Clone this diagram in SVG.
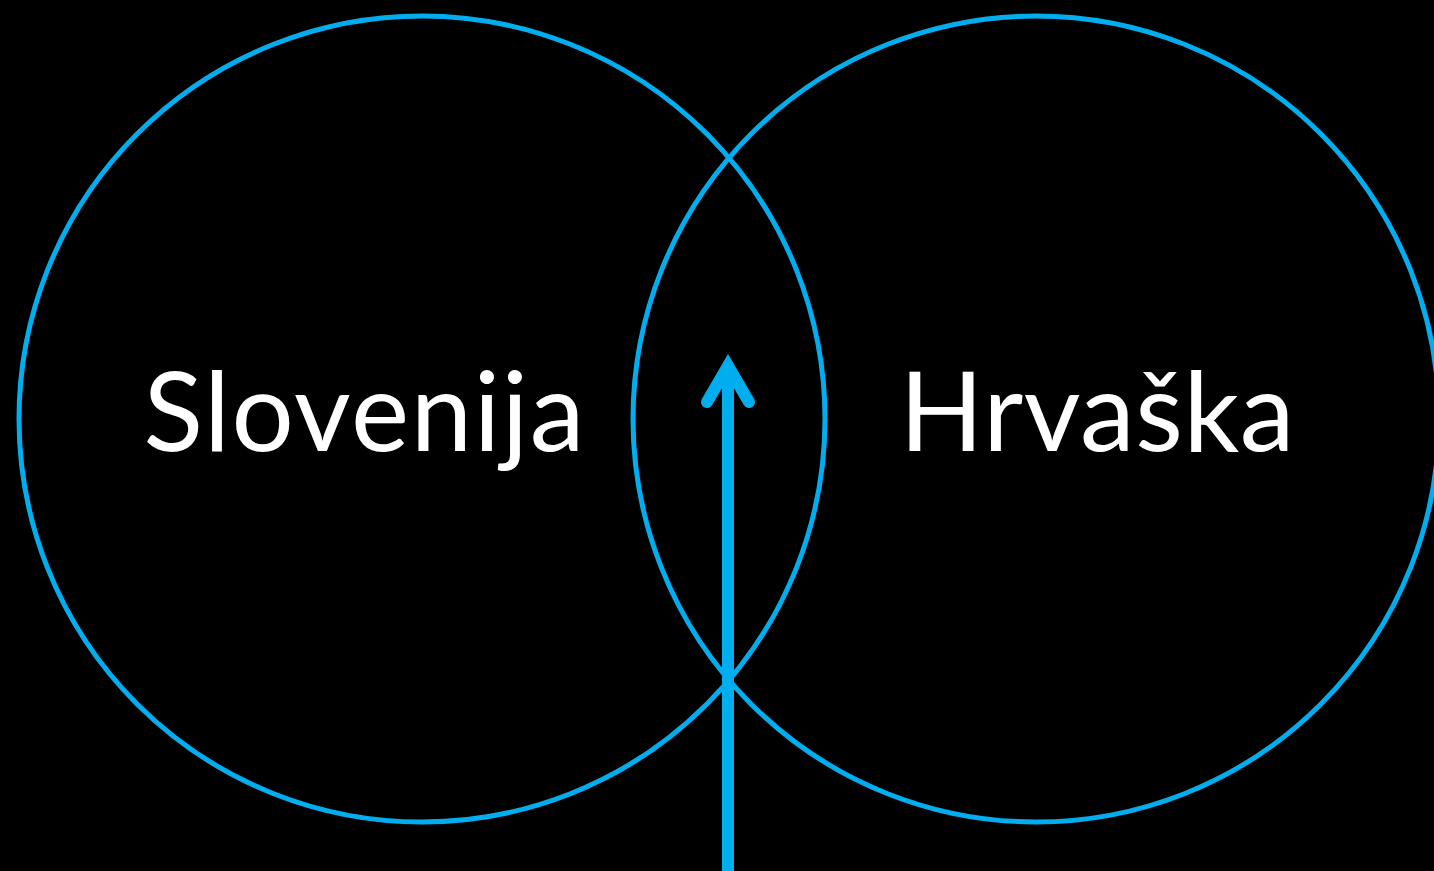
<svg xmlns="http://www.w3.org/2000/svg" width="1434" height="871" viewBox="0 0 1434 871">
<style>
.ring{fill:none;stroke:#00AEEF;stroke-width:5}
.lbl{fill:#FFFFFF;font-family:Lato,"Open Sans",sans-serif;font-size:110px;text-anchor:middle}
.arr{fill:none;stroke:#00AEEF;stroke-width:12}
</style>
<rect width="1434" height="871" fill="#000000"/>
<g id="slovenija">
<circle class="ring" cx="422" cy="419" r="403"/>
<text class="lbl" x="364" y="451" textLength="441" lengthAdjust="spacing">Slovenija</text>
</g>
<g id="hrvaska">
<circle class="ring" cx="1036" cy="419" r="403"/>
<text class="lbl" x="1097" y="451" textLength="395" lengthAdjust="spacing">Hrvaška</text>
</g>
<g id="connectors">
<line class="arr" x1="728" y1="871" x2="728" y2="372"/>
<polyline class="arr" points="707,402 728,366 749,402" stroke-linecap="round" stroke-linejoin="miter"/>
</g>
</svg>
